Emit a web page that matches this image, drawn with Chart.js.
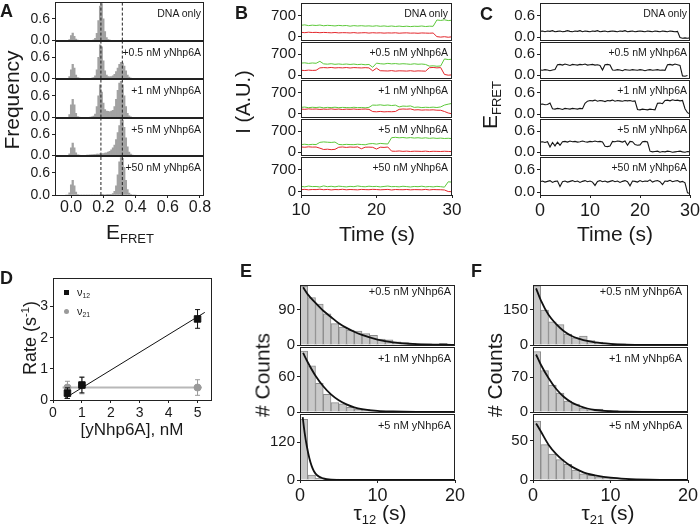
<!DOCTYPE html>
<html>
<head>
<meta charset="utf-8">
<script src="https://cdn.jsdelivr.net/npm/chart.js@4.4.1/dist/chart.umd.min.js"></script>
<style>
  body { margin: 0; background: #fff; }
  #fig { position: relative; width: 700px; height: 530px; overflow: hidden; background: #fff;
         font-family: "Liberation Sans", Arial, sans-serif; color: #1a1a1a; }
  #fig canvas { position: absolute; }
  .t { position: absolute; white-space: nowrap; line-height: 1; }
  .t sub { font-size: 0.62em; vertical-align: -0.35em; line-height: 0; }
  .t sup { font-size: 0.62em; vertical-align: 0.6em; line-height: 0; }
</style>
</head>
<body>
<div id="fig"></div>
<script>
// ---------- data ----------
const rowLabels = ['DNA only', '+0.5 nM yNhp6A', '+1 nM yNhp6A', '+5 nM yNhp6A', '+50 nM yNhp6A'];
const tauLabels = ['+0.5 nM yNhp6A', '+1 nM yNhp6A', '+5 nM yNhp6A'];

// A: FRET histograms (bin centres, frequency)
const aBins = [-0.03,-0.02,-0.01,0,0.01,0.02,0.03,0.04,0.05,0.06,0.07,0.08,0.09,0.1,0.11,0.12,0.13,0.14,0.15,0.16,0.17,0.18,0.19,0.2,0.21,0.22,0.23,0.24,0.25,0.26,0.27,0.28,0.29,0.3,0.31,0.32,0.33,0.34,0.35,0.36,0.37,0.38,0.39,0.4];
const aDna = [0,0,0.03,0.14,0.21,0.12,0.04,0.01,0,0, 0,0,0,0,0,0,0,0.02,0.06,0.2, 0.55,0.95,1.02,0.6,0.25,0.08,0.03,0.01,0,0, 0,0,0,0,0,0,0,0,0,0, 0,0,0,0];
const aP05 = [0,0,0.06,0.25,0.4,0.3,0.1,0.03,0.01,0, 0,0,0,0,0,0,0.01,0.03,0.08,0.25, 0.6,0.95,0.9,0.5,0.22,0.1,0.06,0.05,0.06,0.08, 0.12,0.2,0.3,0.4,0.46,0.44,0.35,0.22,0.1,0.04, 0.01,0,0,0];
const aP1 = [0,0,0.08,0.35,0.5,0.35,0.12,0.03,0.01,0, 0,0,0,0,0,0.01,0.02,0.04,0.1,0.3, 0.6,0.9,0.7,0.4,0.22,0.18,0.17,0.16,0.18,0.2, 0.3,0.5,0.75,0.95,1.0,0.9,0.6,0.3,0.12,0.05, 0.02,0,0,0];
const aP5 = [0,0,0.05,0.22,0.35,0.22,0.08,0.02,0.01,0, 0,0,0,0.01,0.01,0.02,0.02,0.03,0.03,0.04, 0.04,0.05,0.05,0.06,0.07,0.08,0.1,0.12,0.16,0.22, 0.3,0.45,0.65,0.85,1.02,1.0,0.8,0.5,0.25,0.1, 0.04,0.01,0,0];
const aP50 = [0,0,0.06,0.28,0.4,0.25,0.08,0.02,0,0, 0,0,0,0,0,0,0,0,0,0, 0,0,0.01,0.01,0,0.01,0.01,0.01,0.02,0.04, 0.1,0.25,0.55,0.9,1.02,1.0,0.75,0.4,0.15,0.05, 0.02,0,0,0];
const aStates = [0.185, 0.318];
const aXTicks = [0, 0.2, 0.4, 0.6, 0.8];

// B: donor (green) / acceptor (red) intensity traces, sampled every 0.5 s
const tB = [10,10.5,11,11.5,12,12.5,13,13.5,14,14.5,15,15.5,16,16.5,17,17.5,18,18.5,19,19.5,20,20.5,21,21.5,22,22.5,23,23.5,24,24.5,25,25.5,26,26.5,27,27.5,28,28.5,29,29.5,30];
const bG1 = [380,395,370,385,375,390,365,380,372,360,378,366,374,352,370,358,368,355,362,350,366,348,360,345,358,342,355,340,352,338,350,345,358,340,352,348,555,540,560,535,545];
const bR1 = [150,140,155,145,150,138,148,142,135,145,132,140,138,130,142,128,135,140,126,138,130,135,125,132,128,136,122,130,134,124,128,120,130,126,122,128,10,-5,8,-10,5];
const bG2 = [400,410,390,405,395,460,375,365,380,360,372,358,370,355,368,350,362,345,355,260,400,380,370,392,375,385,368,380,372,360,378,362,370,355,300,310,295,305,540,520,530];
const bR2 = [160,150,165,155,160,240,250,242,255,238,248,240,252,236,250,244,238,248,240,140,230,145,140,135,148,130,142,138,132,145,128,140,135,130,245,255,240,250,20,-5,5];
const bG3 = [215,225,205,218,210,222,200,215,208,220,205,214,210,202,218,206,212,200,215,290,285,298,280,292,275,288,230,258,250,262,215,225,208,218,212,222,210,230,290,320,345];
const bR3 = [160,150,165,155,162,148,158,152,165,150,160,145,158,150,162,148,155,160,150,78,70,82,68,75,72,80,150,162,155,165,130,138,125,132,128,135,122,120,80,30,5];
const bG4 = [250,262,245,258,250,325,340,330,322,335,255,245,258,250,248,262,252,244,275,285,265,290,278,270,482,495,478,488,472,485,470,480,465,478,460,472,458,468,455,462,450];
const bR4 = [170,160,175,165,168,130,85,95,80,90,160,170,155,168,160,172,110,162,165,158,100,162,155,168,30,25,35,22,30,18,28,25,20,30,15,25,22,18,26,20,15];
const bG5 = [175,160,185,168,172,155,190,165,178,160,182,170,158,175,165,188,170,162,180,168,175,158,172,185,165,170,160,178,168,155,172,165,180,160,170,158,175,165,150,320,310];
const bR5 = [70,80,65,75,72,85,68,78,62,74,70,82,66,75,70,64,78,72,68,80,74,65,72,78,60,75,70,68,76,64,72,70,66,78,62,74,70,68,60,10,5];

// C: FRET efficiency traces, sampled every 0.5 s
const tC = [0,0.5,1,1.5,2,2.5,3,3.5,4,4.5,5,5.5,6,6.5,7,7.5,8,8.5,9,9.5,10,10.5,11,11.5,12,12.5,13,13.5,14,14.5,15,15.5,16,16.5,17,17.5,18,18.5,19,19.5,20,20.5,21,21.5,22,22.5,23,23.5,24,24.5,25,25.5,26,26.5,27,27.5,28,28.5,29,29.5,30];
const c1 = [0.16,0.17,0.15,0.17,0.16,0.18,0.15,0.16,0.17,0.15, 0.16,0.18,0.16,0.15,0.17,0.16,0.18,0.15,0.17,0.16, 0.15,0.17,0.16,0.18,0.15,0.16,0.17,0.15,0.16,0.17, 0.16,0.15,0.17,0.16,0.18,0.15,0.16,0.17,0.15,0.16, 0.17,0.16,0.15,0.17,0.16,0.15,0.17,0.16,0.15,0.17, 0.16,0.15,0.17,0.16,0.15,0.16,-0.01,-0.03,-0.02,-0.03, -0.02];
const c2 = [0.15,0.14,0.16,0.15,0.13,0.15,0.16, 0.3,0.31,0.29,0.32,0.3,0.28,0.31,0.3,0.29,0.31,0.3,0.32,0.29,0.3,0.31,0.29,0.3,0.28, 0.15, 0.3,0.31,0.29, 0.15,0.14,0.16,0.15,0.13,0.16,0.15,0.14,0.16,0.15,0.14,0.16,0.15,0.13,0.15,0.16,0.14,0.15,0.16,0.14,0.15,0.14, 0.3,0.31,0.29,0.32,0.3,0.28, -0.02,-0.03,-0.01];
const c3 = [0.27,0.28,0.26,0.27, 0.31, 0.15,0.14,0.16,0.15,0.13,0.16,0.15,0.14,0.16,0.15,0.14,0.16,0.15, 0.3, 0.36,0.38,0.37,0.39,0.36,0.38,0.37,0.35,0.38,0.37,0.39,0.36,0.38,0.37,0.36,0.38,0.37,0.38,0.36,0.37, 0.13,0.12,0.14,0.13,0.12,0.14,0.13,0.12, 0.3,0.31,0.29, 0.38,0.39,0.37,0.4,0.38,0.39,0.37,0.38, 0.15,0.04,0.0];
const c4 = [0.29,0.3,0.28,0.3, 0.15, 0.28,0.18,0.29,0.2, 0.3,0.31,0.29,0.32,0.3,0.31,0.29,0.3,0.32,0.3,0.29,0.31,0.3,0.32,0.3,0.31,0.29, 0.17,0.16,0.18, 0.31,0.3,0.32,0.31,0.29,0.32,0.2,0.31,0.3,0.22, 0.2,0.21, 0.3,0.31,0.29, 0.03,0.01,0.02,0.03,0.0,0.02,0.01,0.03,0.02,0.0,0.01,0.02,0.03,0.01,0.0,0.02,0.01];
const c5 = [0.28,0.3,0.27,0.29,0.31,0.26,0.29,0.3,0.15,0.28, 0.3,0.27,0.29,0.31,0.28,0.3,0.26,0.29,0.31,0.28, 0.3,0.27,0.18,0.29,0.31,0.28,0.3,0.27,0.29,0.31, 0.28,0.3,0.26,0.29,0.31,0.28,0.17,0.3,0.29,0.27, 0.31,0.28,0.3,0.29,0.33,0.27,0.3,0.31,0.28,0.2, 0.3,0.29,0.32,0.28,0.3,0.31,0.27,0.29,0.25,-0.02, -0.04];

// D: rates vs concentration
const conc = [0.5, 1, 5];
const v12 = [0.22, 0.48, 2.6];
const v12err = [0.17, 0.25, 0.3];
const v21 = [0.4, 0.47, 0.4];
const v21err = [0.2, 0.27, 0.25];
const fit12X = [0.4, 5.25];
const fit12 = [0.05, 2.81];
const fit21X = [0.33, 5.15];
const fit21 = [0.4, 0.4];

// E / F: dwell time histograms (1 s bins) and fitted decays
const tauBins = [0.5,1.5,2.5,3.5,4.5,5.5,6.5,7.5,8.5,9.5,10.5,11.5,12.5,13.5,14.5,15.5,16.5,17.5,18.5,19.5];
const e05 = [151,122,105,80,55,46,38,36,29,25,15,13,8,6,4,3,3,2,4,2];
const e1 = [104,79,49,30,16,14,8,5,4,2,1.5,1,1,0.5,0,0,0,0,0,0];
const e5 = [193,16,5,3,3,2,1,1,0.5,0.5,0,0,0,0,0,0,0,0,0,0];
const f05 = [250,148,98,86,46,30,38,19,12,8,5,5,3,3,1,1,0.5,0.5,0,0];
const f1 = [121,83,54,38,22,16,8,4.5,6,3,3,1,0.5,0.5,0,0,0,0,0,0];
const f5 = [75,45,33,26,20,12.5,8,6,4,3,2,1,0.5,0.5,0,0,0,0,0,0];
const fitT = [0.4,1,2,3,4,5,6,7,8,10,12,15,20];
const eFit05 = [148,130,108,88,72,56,44,34,26,14,7,2.5,0.5];
const eFit1 = [101,85,62,44,30,20,13,8,5,2,1,0.3,0];
const eFit5T = [0.35,0.6,0.9,1.2,1.5,1.8,2.2,3,4,6,10,20];
const eFit5 = [200,150,105,70,45,28,15,5,1,0.2,0,0];
const fFit05 = [240,190,128,88,58,38,26,17,11,5,2,0.5,0];
const fFit1 = [115,95,68,46,30,19,12,7,4,1.5,0.5,0.2,0];
const fFit5 = [72,62,45,33,24,17,12,8,6,3,1.5,0.5,0];

// ---------- helpers ----------
const fig = document.getElementById('fig');
Chart.defaults.font.family = '"Liberation Sans", Arial, sans-serif';
Chart.defaults.color = '#1a1a1a';

const xy = (xs, ys) => xs.map((x, i) => ({ x, y: ys[i] }));

const frame = {
  id: 'frame',
  afterDatasetsDraw(c) {
    const a = c.chartArea, g = c.ctx;
    g.save();
    g.strokeStyle = '#222';
    g.lineWidth = 1;
    g.strokeRect(Math.round(a.left) + 0.5, Math.round(a.top) + 0.5,
                 Math.round(a.right - a.left) - 1, Math.round(a.bottom - a.top));
    g.restore();
  }
};

// box = [left, top, width, height] of the plotting area on the page
function plot(box, type, datasets, o) {
  const L = 46, T = 10, R = 16, P = 10, BX = o.xLabels ? 30 : 0;
  const cv = document.createElement('canvas');
  cv.width = box[2] + L + R;
  cv.height = box[3] + T + BX + P;
  cv.style.left = (box[0] - L) + 'px';
  cv.style.top = (box[1] - T) + 'px';
  fig.appendChild(cv);
  return new Chart(cv, {
    type,
    data: { datasets },
    options: {
      responsive: false, animation: false, events: [],
      layout: { padding: { left: 0, top: T, right: R, bottom: P } },
      plugins: { legend: { display: false }, tooltip: { enabled: false } },
      scales: {
        x: {
          type: 'linear', min: o.x[0], max: o.x[1], offset: false,
          afterBuildTicks: s => { s.ticks = o.xTicks.map(v => ({ value: v })); },
          afterFit: s => { s.height = BX; },
          border: { display: false },
          grid: { drawOnChartArea: false, offset: false, color: '#222', tickLength: o.xLabels ? 3 : 0 },
          ticks: { display: !!o.xLabels, autoSkip: false, maxRotation: 0, padding: o.xPad ?? 2,
                   font: { size: o.xFont || 16 }, callback: v => v.toFixed(o.xDec || 0) }
        },
        y: {
          min: o.y[0], max: o.y[1],
          afterBuildTicks: s => { s.ticks = o.yTicks.map(v => ({ value: v })); },
          afterFit: s => { s.width = L; },
          border: { display: false },
          grid: { drawOnChartArea: false, color: '#222', tickLength: 3 },
          ticks: { autoSkip: false, padding: 2, font: { size: o.yFont || 14 },
                   callback: v => v.toFixed(o.yDec || 0) }
        }
      }
    },
    plugins: [frame]
  });
}

function label(html, x, y, size, how, extra) {
  const d = document.createElement('div');
  d.className = 't';
  d.innerHTML = html;
  d.style.left = x + 'px';
  d.style.top = y + 'px';
  d.style.fontSize = size + 'px';
  const tf = { c: 'translate(-50%,-50%)', r: 'translate(-100%,-50%)', l: 'translate(0,-50%)',
               v: 'translate(-50%,-50%) rotate(-90deg)', tl: 'none' };
  d.style.transform = tf[how];
  if (extra) Object.assign(d.style, extra);
  fig.appendChild(d);
}

const rowTop = [2, 41, 79, 118, 156];
const rowH = [39, 38, 39, 38, 39];

// ---------- A ----------
[aDna, aP05, aP1, aP5, aP50].forEach((h, i) => {
  const ds = [{ type: 'bar', data: xy(aBins, h), backgroundColor: '#a2a2a2', grouped: false,
                barPercentage: 1, categoryPercentage: 1, order: 2 }];
  aStates.forEach(s => ds.push({ type: 'line', data: [{ x: s, y: 0 }, { x: s, y: 1.05 }],
    borderColor: '#222', borderWidth: 1, borderDash: [3, 2], pointRadius: 0, order: 1 }));
  plot([55, rowTop[i], 149, rowH[i]], 'bar', ds,
       { x: [-0.1, 0.825], xTicks: aXTicks, y: [0, 1.05], yTicks: [0, 0.6], xDec: 1, yDec: 1,
         xLabels: i === 4, xFont: 16, yFont: 14, xPad: 0 });
  label(rowLabels[i], 201, rowTop[i] + 10.5, 10.5, 'r');
});

// ---------- B ----------
const bGreen = [bG1, bG2, bG3, bG4, bG5];
const bRed = [bR1, bR2, bR3, bR4, bR5];
const trace = (xs, ys, c, w) => ({ data: xy(xs, ys), borderColor: c, borderWidth: w || 1,
                                    pointRadius: 0, tension: 0 });
bGreen.forEach((g, i) => {
  plot([301, rowTop[i], 151, rowH[i]], 'line', [trace(tB, bRed[i], '#e3262b'), trace(tB, g, '#5cc83a')],
       { x: [10, 30], xTicks: [10, 20, 30], y: [-100, 1110], yTicks: [0, 700],
         xLabels: i === 4, xFont: 17, yFont: 15 });
  label(rowLabels[i], 448, rowTop[i] + 10.5, 10.5, 'r');
});

// ---------- C ----------
[c1, c2, c3, c4, c5].forEach((c, i) => {
  plot([540, rowTop[i], 150, rowH[i]], 'line', [trace(tC, c, '#151515', 1.1)],
       { x: [0, 30], xTicks: [0, 10, 20, 30], y: [-0.08, 0.95], yTicks: [0, 0.6], yDec: 1,
         xLabels: i === 4, xFont: 18, yFont: 15 });
  label(rowLabels[i], 687, rowTop[i] + 10.5, 10.5, 'r');
});

// ---------- D ----------
const errBars = (xs, ys, es) => xs.flatMap((x, i) =>
  [{ x, y: ys[i] - es[i] }, { x, y: ys[i] + es[i] }, { x, y: null }]);
plot([53, 278, 159, 122], 'line', [
  { data: xy(conc, v12), showLine: false, pointStyle: 'rect', pointRadius: 4.6,
    backgroundColor: '#111', borderColor: '#111', order: 0 },
  { data: errBars(conc, v12, v12err), borderColor: '#111', borderWidth: 1, pointStyle: 'line',
    pointRadius: 2.5, pointBorderColor: '#111', pointBorderWidth: 1, order: 1 },
  { data: xy(fit12X, fit12), borderColor: '#111', borderWidth: 1, pointRadius: 0, order: 2 },
  { data: xy(conc, v21), showLine: false, pointStyle: 'circle', pointRadius: 3.5,
    backgroundColor: '#9a9a9a', borderColor: '#9a9a9a', order: 3 },
  { data: errBars(conc, v21, v21err), borderColor: '#9a9a9a', borderWidth: 1, pointStyle: 'line',
    pointRadius: 2.5, pointBorderColor: '#9a9a9a', pointBorderWidth: 1, order: 4 },
  { data: xy(fit21X, fit21), borderColor: '#b8b8b8', borderWidth: 2, pointRadius: 0, order: 5 }
], { x: [0, 5.5], xTicks: [0, 1, 2, 3, 4, 5], y: [0, 3.9], yTicks: [0, 1, 2, 3],
     xLabels: true, xFont: 14, yFont: 14 });
label('', 64, 290, 10, 'tl', { width: '5px', height: '5px', background: '#111' });
label('ν<sub>12</sub>', 77, 292, 11, 'l');
label('', 64, 309, 10, 'tl', { width: '5px', height: '5px', background: '#9a9a9a', borderRadius: '50%' });
label('ν<sub>21</sub>', 77, 311, 11, 'l');

// ---------- E / F ----------
const tauTop = [284, 346, 413];
const tauH = [62, 67, 67];
function tauPanel(left, hists, fits, fitXs, yMax, yTick, labRight) {
  hists.forEach((h, i) => {
    plot([left, tauTop[i], 155, tauH[i]], 'bar', [
      { type: 'line', data: xy(fitXs[i], fits[i]), borderColor: '#111', borderWidth: 1.8,
        pointRadius: 0, cubicInterpolationMode: 'monotone', order: 1 },
      { type: 'bar', data: xy(tauBins, h), backgroundColor: '#c9c9c9', borderColor: '#8a8a8a',
        borderWidth: 1, grouped: false, barPercentage: 1, categoryPercentage: 1, order: 2 }
    ], { x: [0, 20], xTicks: [0, 10, 20], y: [0, yMax[i]], yTicks: [0, yTick[i]],
         xLabels: i === 2, xFont: 18, yFont: 15 });
    label(tauLabels[i], labRight, tauTop[i] + (i === 0 ? 7 : 12), 11, 'r');
  });
}
tauPanel(300, [e05, e1, e5], [eFit05, eFit1, eFit5], [fitT, fitT, eFit5T], [154, 111, 210], [90, 60, 120], 451);
tauPanel(533, [f05, f1, f5], [fFit05, fFit1, fFit5], [fitT, fitT, fitT], [254, 130, 84], [150, 70, 50], 682);

// ---------- titles and panel letters ----------
label('Frequency', 11, 100, 21, 'v');
label('E<sub>FRET</sub>', 130, 231, 21, 'c');
label('I (A.U.)', 243, 102, 20, 'v');
label('Time (s)', 377, 233, 21, 'c');
label('E<sub>FRET</sub>', 489, 105, 21, 'v');
label('Time (s)', 615, 233, 21, 'c');
label('Rate (s<sup>-1</sup>)', 30, 338, 18, 'v');
label('[yNhp6A], nM', 132, 429, 17, 'c');
label('# Counts', 262, 375, 21, 'v');
label('τ<sub>12</sub> (s)', 380, 512, 21, 'c');
label('# Counts', 494, 375, 21, 'v');
label('τ<sub>21</sub> (s)', 608, 512, 21, 'c');

const bold = { fontWeight: 'bold' };
label('A', 0, 1.5, 18, 'tl', bold);
label('B', 235, 3.5, 18, 'tl', bold);
label('C', 480, 4.5, 18, 'tl', bold);
label('D', 0, 268.5, 18, 'tl', bold);
label('E', 240, 261.5, 18, 'tl', bold);
label('F', 471, 261.5, 18, 'tl', bold);
</script>
</body>
</html>
